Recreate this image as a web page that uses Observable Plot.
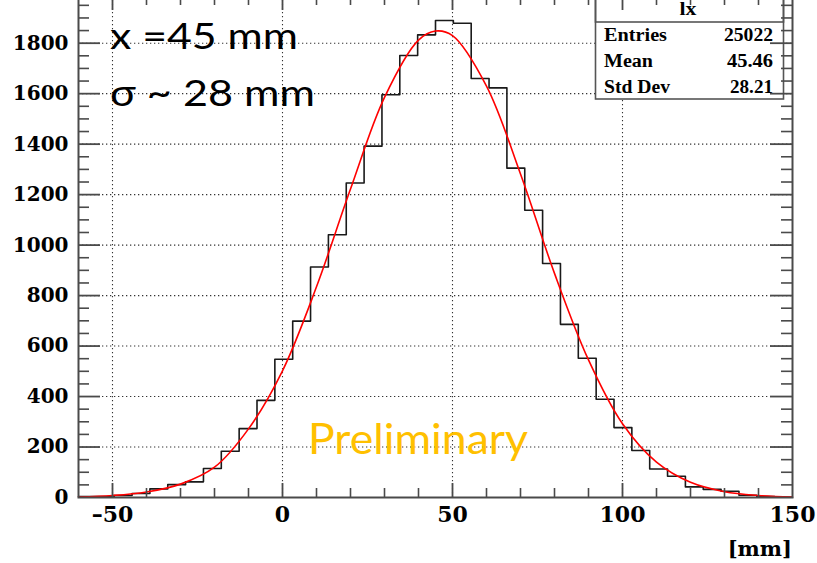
<!DOCTYPE html>
<html><head><meta charset="utf-8">
<script src="https://cdn.jsdelivr.net/npm/d3@7"></script>
<script src="https://cdn.jsdelivr.net/npm/@observablehq/plot@0.6"></script>
<style>
html,body{margin:0;padding:0;background:#fff;overflow:hidden;width:817px;height:563px;}
#chart svg{display:block;margin-top:-4px;}
</style></head><body><div id="chart"></div>
<script>
// ---- data ----
const binLow = -60;
const binWidth = 5.25;
const counts = [4,4,8,16,34,51,62,115,183,273,385,548,699,913,1041,1246,1392,1596,1751,1833,1890,1879,1660,1623,1305,1138,927,686,552,389,277,186,113,84,42,32,25,9,4,1];
const fitX = [-60,-50,-40,-30,-20,-10,0,10,20,30,40,45,50,60,70,80,90,100,110,120,130,140,150];
const fitY = [2,8,22,53,120,272,502,835,1222,1585,1812,1848,1830,1630,1282,888,545,292,140,60,23,8,2];
const xTickLabels = [-50,0,50,100,150];
const xGrid = [-50,0,50,100];
const xMinor = [-40,-30,-20,-10,10,20,30,40,60,70,80,90,110,120,130,140];
const yTickLabels = [0,200,400,600,800,1000,1200,1400,1600,1800];
const yGrid = [200,400,600,800,1000,1200,1400,1600,1800];
const yMinor = [50,100,150,250,300,350,450,500,550,650,700,750,850,900,950,1050,1100,1150,1250,1300,1350,1450,1500,1550,1650,1700,1750,1850,1900,1950];
const statsTitle = "lx";
const statsNames = ["Entries","Mean","Std Dev"];
const statsValues = ["25022","45.46","28.21"];
const annoLines = ["x =45 mm","σ ~ 28 mm"];
const watermark = "Preliminary";
const xUnit = "[mm]";

// ---- layout ----
const W = 817, H = 567, mL = 78, mR = 25, mT = 0, mB = 66;
const FW = W - mL - mR, FH = H - mT - mB;
const axisCol = "#4a4a4a";

const stepData = counts.map((c, i) => ({x: binLow + i * binWidth, y: c}));
stepData.push({x: binLow + counts.length * binWidth, y: counts[counts.length - 1]});
const fitData = fitX.map((x, i) => ({x, y: fitY[i]}));

const plot = Plot.plot({
  width: W, height: H,
  marginLeft: mL, marginRight: mR, marginTop: mT, marginBottom: mB,
  style: {fontFamily: "DejaVu Serif", fontWeight: "bold", fontSize: "20px", background: "#fff", color: "#000"},
  x: {domain: [-60, 150]},
  y: {domain: [0, 1985]},
  marks: [
    Plot.ruleX(xGrid, {x: d => d, stroke: "#333", strokeWidth: 1.1, strokeDasharray: "1.3,2.7"}),
    Plot.ruleY(yGrid, {y: d => d, stroke: "#333", strokeWidth: 1.1, strokeDasharray: "1.3,2.7"}),
    // stats box
    Plot.frame({insetLeft: 517, insetRight: 9, insetTop: -2, insetBottom: 398.5, fill: "#fff", stroke: "#555", strokeWidth: 1.6}),
    Plot.frame({insetLeft: 517, insetRight: 9, insetTop: -2, insetBottom: 475.5, fill: "none", stroke: "#555", strokeWidth: 1.6}),
    Plot.line(stepData, {x: "x", y: "y", curve: "step-after", stroke: "#1a1a1a", strokeWidth: 1.6}),
    Plot.line(fitData, {x: "x", y: "y", curve: "catmull-rom", stroke: "#ff0000", strokeWidth: 1.6}),
    // ticks (inward)
    Plot.tickX(xMinor, {x: d => d, insetTop: FH - 9, stroke: axisCol, strokeWidth: 1.6}),
    Plot.tickX(xGrid, {x: d => d, insetTop: FH - 14, stroke: axisCol, strokeWidth: 1.8}),
    Plot.tickX(xMinor, {x: d => d, insetBottom: FH - 9, stroke: axisCol, strokeWidth: 1.6}),
    Plot.tickX(xGrid, {x: d => d, insetBottom: FH - 14, stroke: axisCol, strokeWidth: 1.8}),
    Plot.tickY(yMinor, {y: d => d, insetRight: FW - 11, stroke: axisCol, strokeWidth: 1.6}),
    Plot.tickY(yGrid, {y: d => d, insetRight: FW - 22, stroke: axisCol, strokeWidth: 1.8}),
    Plot.tickY(yMinor, {y: d => d, insetLeft: FW - 11, stroke: axisCol, strokeWidth: 1.6}),
    Plot.tickY(yGrid, {y: d => d, insetLeft: FW - 22, stroke: axisCol, strokeWidth: 1.8}),
    Plot.frame({stroke: axisCol, strokeWidth: 2}),
    Plot.axisX({ticks: xTickLabels, tickSize: 0, tickPadding: 9, fontSize: 22, label: null,
      tickFormat: d => d < 0 ? "\u2013" + Math.abs(d) : String(d)}),
    Plot.axisY({ticks: yTickLabels, tickSize: 0, tickPadding: 10, fontSize: 20, label: null,
      tickFormat: d => String(d)})
  ]
});
document.getElementById("chart").appendChild(plot);

// ---- text overlays (svg coords = page coords + 4) ----
const svg = d3.select(plot);
const g = svg.append("g");
function txt(s, x, y, o) {
  const t = g.append("text").attr("x", x).attr("y", y).text(s)
    .attr("font-family", o.family).attr("font-size", o.size).attr("font-weight", o.weight || "normal")
    .attr("fill", o.fill || "#000").attr("text-anchor", o.anchor || "start");
  if (o.len) t.attr("textLength", o.len).attr("lengthAdjust", "spacingAndGlyphs");
  return t;
}
const sans = "Lato, 'Open Sans', sans-serif";
txt(annoLines[0], 110, 53, {family: sans, size: 36, len: 188});
txt(annoLines[1], 110, 110, {family: sans, size: 36, len: 205});
txt(watermark, 308, 458, {family: sans, size: 43, fill: "#FFC000", len: 220});
const serif = "'Liberation Serif', 'DejaVu Serif', serif";
txt(statsTitle, 688, 19, {family: serif, size: 18, weight: "bold", anchor: "middle", len: 17});
const nameLens = [63, 49, 66], valLens = [49, 46, 43], baselines = [44.5, 70.5, 96.5];
statsNames.forEach((n, i) => {
  txt(n, 604, baselines[i], {family: serif, size: 18, weight: "bold", len: nameLens[i]});
  txt(statsValues[i], 773 - valLens[i], baselines[i], {family: serif, size: 18, weight: "bold", len: valLens[i]});
});
txt(xUnit, 792, 560, {family: "DejaVu Serif", size: 21, weight: "bold", anchor: "end"});
</script></body></html>
